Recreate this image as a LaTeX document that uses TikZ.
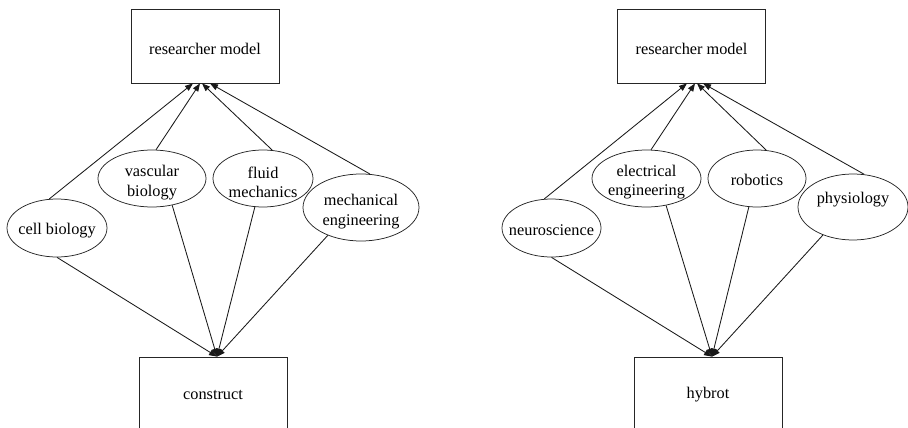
\documentclass[tikz,border=0pt]{standalone}
\usepackage{fontspec}
\setmainfont{Liberation Serif}
\usetikzlibrary{shapes.geometric,arrows.meta}
\begin{document}
\begin{tikzpicture}[x=1pt,y=-1pt,
  txt/.style={font=\fontsize{16.3}{19.5}\selectfont, align=center},
  box/.style={draw=black!85, line width=0.75pt, rectangle, minimum width=148pt, minimum height=74pt, inner sep=0pt},
  ell/.style={draw=black!85, line width=0.75pt, ellipse, inner sep=0pt},
  lbl/.style={inner sep=0pt, txt},
  link/.style={-{Triangle[length=8pt,width=6pt]}, line width=0.85pt, black!90}
]
\useasboundingbox (0,0) rectangle (908,428);
\clip (0,0) rectangle (908,428);

% ---------- left diagram ----------
\node[box] (rmL) at (205,46) {};
\node[lbl] (rmL-t) at ([yshift=-2.5pt]rmL.center) {researcher model};
\node[box] (con) at (213,394) {};
\node[lbl] (con-t) at ([yshift=-1pt]con.center) {construct};

\node[ell, minimum width=100pt, minimum height=58pt] (cb) at (57,228) {};
\node[lbl] (cb-t) at ([yshift=-2.5pt]cb.center) {cell biology};
\node[ell, minimum width=108pt, minimum height=57pt] (vb) at (152,178.5) {};
\node[lbl] (vb-t) at ([yshift=-4pt]vb.center) {vascular\\biology};
\node[ell, minimum width=100pt, minimum height=57pt] (fm) at (263,178.5) {};
\node[lbl] (fm-t) at ([yshift=-4pt]fm.center) {fluid\\mechanics};
\node[ell, minimum width=116pt, minimum height=67pt] (me) at (361,207.5) {};
\node[lbl] (me-t) at ([yshift=-4pt]me.center) {mechanical\\engineering};

\draw[link] (cb.105) -- ([xshift=-12pt]rmL.south);
\draw[link] (vb.82)  -- ([xshift=-5pt]rmL.south);
\draw[link] (fm.72)  -- ([xshift=-3pt]rmL.south);
\draw[link] (me.75)  -- ([xshift=5pt]rmL.south);

\draw[link] (cb.270) -- ([xshift=4pt]con.north);
\draw[link] (vb.307) -- ([xshift=4pt]con.north);
\draw[link] (fm.254) -- ([xshift=4pt]con.north);
\draw[link] (me.220) -- ([xshift=4pt]con.north);

% ---------- right diagram ----------
\node[box] (rmR) at (691.5,46) {};
\node[lbl] (rmR-t) at ([yshift=-2.5pt]rmR.center) {researcher model};
\node[box] (hyb) at (708,394) {};
\node[lbl] (hyb-t) at ([yshift=-1pt]hyb.center) {hybrot};

\node[ell, minimum width=99pt, minimum height=58pt] (ns) at (551.5,228) {};
\node[lbl] (ns-t) at ([yshift=-2.5pt]ns.center) {neuroscience};
\node[ell, minimum width=109pt, minimum height=57pt] (ee) at (646.5,178.5) {};
\node[lbl] (ee-t) at ([yshift=-3.5pt]ee.center) {electrical\\engineering};
\node[ell, minimum width=98pt, minimum height=57pt] (rb) at (757,178.5) {};
\node[lbl] (rb-t) at ([yshift=-1.5pt]rb.center) {robotics};
\node[ell, minimum width=110pt, minimum height=66pt] (ph) at (853,207) {};
\node[lbl] (ph-t) at ([yshift=7pt]ph.center) {physiology};

\draw[link] (ns.104) -- ([xshift=-4.5pt]rmR.south);
\draw[link] (ee.81)  -- ([xshift=3.5pt]rmR.south);
\draw[link] (rb.72)  -- ([xshift=5.5pt]rmR.south);
\draw[link] (ph.71)  -- ([xshift=11.5pt]rmR.south);

\draw[link] (ns.270) -- ([xshift=4pt]hyb.north);
\draw[link] (ee.306) -- ([xshift=4pt]hyb.north);
\draw[link] (rb.254) -- ([xshift=4pt]hyb.north);
\draw[link] (ph.223) -- ([xshift=4pt]hyb.north);
\end{tikzpicture}
\end{document}
